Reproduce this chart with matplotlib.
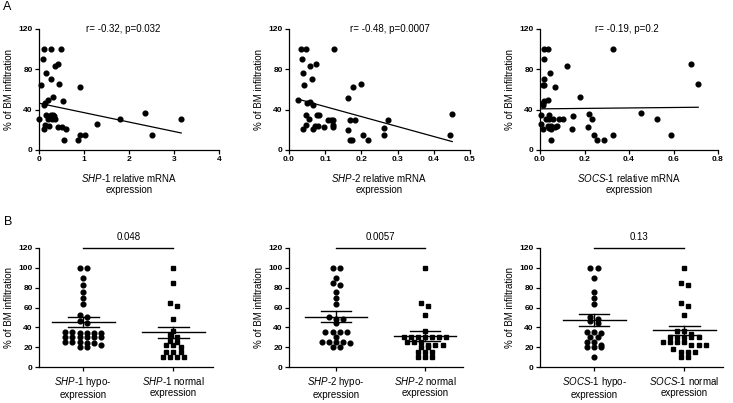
import matplotlib
matplotlib.use("Agg")
import matplotlib.pyplot as plt
import numpy as np

plt.rcParams['font.family'] = ['Liberation Sans', 'DejaVu Sans']
plt.rcParams['mathtext.fontset'] = 'custom'
plt.rcParams['mathtext.rm'] = 'Liberation Sans'
plt.rcParams['mathtext.it'] = 'Liberation Sans:italic'

# ---- panel A: relative mRNA expression vs % BM infiltration ----
shp1_x = [0.10, 0.27, 0.49, 0.08, 0.15, 0.36, 0.43, 0.26, 0.05, 0.44, 0.91, 0.54, 0.30,
          0.19, 0.13, 0.10, 0.01, 0.16, 0.19, 0.27, 0.32, 0.28, 0.36, 0.34, 0.13, 0.23,
          0.12, 0.43, 0.50, 0.59, 0.56, 0.87, 0.92, 1.02, 1.29, 1.81, 2.36, 2.52, 3.16]
shp1_y = [100, 100, 100, 90, 76.6, 83.5, 85.5, 70, 64, 65, 62, 48.7, 52.7,
          50, 46.7, 44.7, 30.5, 34.5, 30.5, 35, 34.5, 31, 31, 34, 24.5, 24,
          21, 23, 23, 21, 10, 10, 15, 15, 25.5, 30.5, 36.5, 15, 30.5]

shp2_x = [0.025, 0.034, 0.047, 0.037, 0.124, 0.074, 0.057, 0.040, 0.064, 0.042, 0.057,
          0.050, 0.065, 0.048, 0.056, 0.040, 0.046, 0.066, 0.073, 0.077, 0.083, 0.080,
          0.097, 0.107, 0.115, 0.122, 0.121, 0.121, 0.164, 0.177, 0.200, 0.163, 0.168,
          0.182, 0.168, 0.175, 0.204, 0.219, 0.262, 0.262, 0.273, 0.446, 0.451]
shp2_y = [50, 100, 100, 90, 100, 85.5, 83, 76, 70, 64, 48,
          47, 44.5, 34.5, 30.5, 20.5, 25, 20.5, 24, 34.5, 34.5, 24,
          22.5, 30, 30, 30, 24.5, 22.5, 52, 62, 65, 20, 30,
          30, 10, 10, 15, 10, 15, 22, 30, 15, 36]

socs1_x = [0.019, 0.034, 0.016, 0.019, 0.012, 0.019, 0.046, 0.037, 0.018, 0.015, 0.012,
           0.069, 0.120, 0.178, 0.006, 0.003, 0.012, 0.027, 0.042, 0.039, 0.036, 0.051,
           0.060, 0.075, 0.067, 0.085, 0.105, 0.048, 0.039, 0.048, 0.142, 0.150, 0.219,
           0.232, 0.216, 0.244, 0.254, 0.287, 0.329, 0.329, 0.454, 0.524, 0.588, 0.680, 0.711]
socs1_y = [100, 100, 90, 70, 64.6, 64.6, 76, 50, 48.7, 46.4, 44.4,
           62, 83.5, 52.4, 34.5, 26, 20.5, 30.5, 34.5, 30.5, 24, 24,
           30.5, 24, 23, 30.5, 30.5, 20.5, 22, 10, 20.5, 33.5, 35.5,
           30.5, 22.5, 15, 10, 10, 15, 100, 36.5, 30.5, 15, 85, 65]

# regression lines (intercept, slope)
fit_intercept = [46.4, 52.9, 40.8]
fit_slope = [-9.34, -98.8, 2.25]
stats_a = ["r= -0.32, p=0.032", "r= -0.48, p=0.0007", "r= -0.19, p=0.2"]
genes = ["SHP", "SHP", "SOCS"]
gene_num = ["1", "2", "1"]
xmax_a = [4, 0.5, 0.8]
xticks_a = [[0, 1, 2, 3, 4], [0.0, 0.1, 0.2, 0.3, 0.4, 0.5], [0.0, 0.2, 0.4, 0.6, 0.8]]

# ---- panel B: hypo- vs normal expression groups ----
shp1_hypo = [100, 100, 90, 83, 76, 70, 64, 52, 50, 46, 44, 35, 35, 34, 34, 34, 34,
             30, 30, 30, 30, 30, 30, 25, 25, 25, 24, 24, 22, 20, 20]
shp1_norm = [100, 85, 65, 62, 48, 36, 32, 30, 26, 25, 22, 22, 20, 15, 15, 15, 10, 10, 10, 10]
shp2_hypo = [100, 100, 90, 85, 83, 76, 70, 64, 50, 48, 48, 44, 35, 35, 35, 35, 30,
             25, 25, 25, 25, 24, 20, 20]
shp2_norm = [100, 65, 62, 52, 36, 30, 30, 30, 30, 30, 30, 30, 25, 25, 25, 22, 22, 22,
             20, 20, 15, 15, 15, 10, 10, 10]
socs1_hypo = [100, 100, 90, 76, 70, 64, 50, 48, 46, 44, 35, 35, 34, 30, 30, 25, 25,
              22, 20, 20, 20, 10]
socs1_norm = [100, 85, 83, 65, 62, 52, 36, 36, 33, 30, 30, 30, 30, 30, 25, 25, 25, 25,
              22, 22, 22, 18, 15, 15, 15, 10, 10]
b_mean = [[45.3, 35.0], [50.6, 31.3], [47.3, 37.0]]
b_sem = [[5.2, 5.8], [5.5, 5.0], [6.2, 4.7]]
p_b = ["0.048", "0.0057", "0.13"]

W, H = 733, 403
fig = plt.figure(figsize=(W / 100, H / 100), dpi=100)


def ax_at(l, t, r, b):
    return fig.add_axes([l / W, 1 - b / H, (r - l) / W, (b - t) / H])


def style(ax):
    for s in ['top', 'right']:
        ax.spines[s].set_visible(False)
    for s in ['left', 'bottom']:
        ax.spines[s].set_linewidth(0.9)
    ax.tick_params(direction='out', length=3, width=0.9, labelsize=6, pad=1.5)


def gene_label(g, n):
    return r"$\it{" + g + "}$-$\it{" + n + "}$"


def swarm(vals, center, step=0.08, tol=3.5):
    v = sorted(vals, reverse=True)
    xs, ys = [], []
    i = 0
    while i < len(v):
        j = i
        while j < len(v) and v[i] - v[j] < tol:
            j += 1
        grp = v[i:j]
        n = len(grp)
        for k, y in enumerate(grp):
            xs.append(center + (k - (n - 1) / 2) * step)
            ys.append(y)
        i = j
    return xs, ys


# top row
a_lr = [(39, 219), (289, 470), (540, 718)]
a_x = [shp1_x, shp2_x, socs1_x]
a_y = [shp1_y, shp2_y, socs1_y]
txt_pos = [0.47, 0.56, 0.49]
for i in range(3):
    ax = ax_at(a_lr[i][0], 29, a_lr[i][1], 150)
    style(ax)
    ax.plot(a_x[i], a_y[i], 'o', color='black', ms=3.4, clip_on=False)
    xl = np.array([min(a_x[i]), max(a_x[i])])
    ax.plot(xl, fit_intercept[i] + fit_slope[i] * xl, color='black', lw=0.9)
    ax.set_xlim(0, xmax_a[i])
    ax.set_ylim(0, 120)
    ax.set_xticks(xticks_a[i])
    if i == 0:
        ax.set_xticklabels([str(t) for t in xticks_a[i]])
    else:
        ax.set_xticklabels(["%.1f" % t for t in xticks_a[i]])
    ax.set_yticks([0, 40, 80, 120])
    plt.setp(ax.get_xticklabels() + ax.get_yticklabels(), fontweight='bold')
    ax.set_ylabel("% of BM infiltration", fontsize=7, labelpad=3)
    ax.set_xlabel(gene_label(genes[i], gene_num[i]) + " relative mRNA\nexpression",
                  fontsize=7, labelpad=6, linespacing=1.15)
    ax.text(txt_pos[i], 1.0, stats_a[i], transform=ax.transAxes, fontsize=7,
            ha='center', va='center')

# bottom row
b_lr = [(39, 213), (289, 463), (540, 723)]
b_xlim = [(-0.49, 1.44), (-0.53, 1.43), (-0.6, 1.43)]
b_hypo = [shp1_hypo, shp2_hypo, socs1_hypo]
b_norm = [shp1_norm, shp2_norm, socs1_norm]
for i in range(3):
    ax = ax_at(b_lr[i][0], 248, b_lr[i][1], 367)
    style(ax)
    xs, ys = swarm(b_hypo[i], 0)
    ax.plot(xs, ys, 'o', color='black', ms=3.4, clip_on=False)
    xs, ys = swarm(b_norm[i], 1)
    ax.plot(xs, ys, 's', color='black', ms=3.0, clip_on=False)
    for c in range(2):
        m, s = b_mean[i][c], b_sem[i][c]
        ax.plot([c - 0.35, c + 0.35], [m, m], color='black', lw=1.0)
        ax.plot([c, c], [m - s, m + s], color='black', lw=1.0)
        ax.plot([c - 0.17, c + 0.17], [m + s, m + s], color='black', lw=1.0)
        ax.plot([c - 0.17, c + 0.17], [m - s, m - s], color='black', lw=1.0)
    ax.plot([0, 1], [120, 120], color='black', lw=1.0, clip_on=False)
    ax.text(0.5, 131, p_b[i], fontsize=7, ha='center', va='center')
    ax.set_xlim(*b_xlim[i])
    ax.set_ylim(0, 120)
    ax.set_yticks(range(0, 121, 20))
    plt.setp(ax.get_yticklabels(), fontweight='bold')
    ax.set_xticks([0, 1])
    g = gene_label(genes[i], gene_num[i])
    ax.set_xticklabels([g + " hypo-\nexpression", g + " normal\nexpression"],
                       fontsize=7, linespacing=1.1)
    ax.tick_params(axis='x', pad=3)
    ax.set_ylabel("% of BM infiltration", fontsize=7, labelpad=3)

fig.text(3 / W, 1 - 7 / H, "A", fontsize=9, va='center', ha='left')
fig.text(4 / W, 1 - 222 / H, "B", fontsize=9, va='center', ha='left')

fig.savefig("out.png", dpi=100)
